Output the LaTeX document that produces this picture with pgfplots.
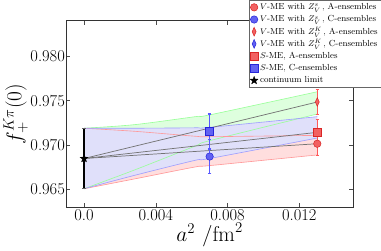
\documentclass[border=0pt]{standalone}
\usepackage{pgfplots}
\pgfplotsset{compat=1.18}
\usepgfplotslibrary{fillbetween}
\usetikzlibrary{plotmarks}
\definecolor{mred}{rgb}{0.95,0.38,0.38}
\definecolor{mredge}{rgb}{0.85,0.15,0.15}
\definecolor{mblue}{rgb}{0.38,0.38,0.95}
\definecolor{mbluee}{rgb}{0.15,0.15,0.85}
\definecolor{ebred}{rgb}{1.0,0.35,0.35}
\definecolor{ebblue}{rgb}{0.35,0.35,1.0}
\definecolor{bandg}{rgb}{0.87,1.0,0.87}
\definecolor{bandr}{rgb}{1.0,0.87,0.87}
\definecolor{bandb}{rgb}{0.88,0.88,0.98}
\definecolor{edg}{rgb}{0.6,1.0,0.6}
\definecolor{edr}{rgb}{1.0,0.6,0.6}
\definecolor{edb}{rgb}{0.62,0.62,1.0}
\pgfdeclareplotmark{fstar}{%
  \pgfpathmoveto{\pgfpointpolar{90}{\pgfplotmarksize}}%
  \pgfpathlineto{\pgfpointpolar{126}{0.42\pgfplotmarksize}}%
  \pgfpathlineto{\pgfpointpolar{162}{\pgfplotmarksize}}%
  \pgfpathlineto{\pgfpointpolar{198}{0.42\pgfplotmarksize}}%
  \pgfpathlineto{\pgfpointpolar{234}{\pgfplotmarksize}}%
  \pgfpathlineto{\pgfpointpolar{270}{0.42\pgfplotmarksize}}%
  \pgfpathlineto{\pgfpointpolar{306}{\pgfplotmarksize}}%
  \pgfpathlineto{\pgfpointpolar{342}{0.42\pgfplotmarksize}}%
  \pgfpathlineto{\pgfpointpolar{18}{\pgfplotmarksize}}%
  \pgfpathlineto{\pgfpointpolar{54}{0.42\pgfplotmarksize}}%
  \pgfpathclose
  \pgfusepathqfillstroke}
\begin{document}
\begin{tikzpicture}
\begin{axis}[
  scale only axis, width=278pt, height=181pt,
  xmin=-0.001, xmax=0.015, ymin=0.963, ymax=0.984,
  scaled x ticks=false, scaled y ticks=false,
  xtick={0,0.004,0.008,0.012}, xticklabels={0.0,0.004,0.008,0.012},
  ytick={0.965,0.970,0.975,0.980}, yticklabels={0.965,0.970,0.975,0.980},
  tick align=inside, major tick length=4pt,
  tick style={black!70, line width=0.6pt},
  axis line style={black!80, line width=0.8pt},
  ticklabel style={font=\fontsize{16}{16}\selectfont},
  yticklabel style={inner xsep=1pt},
  xticklabel style={inner ysep=2pt},
  xlabel={$a^2\ /\mathrm{fm}^2$}, ylabel={$f_+^{K\pi}(0)$},
  label style={font=\fontsize{22}{22}\selectfont},
  xlabel style={yshift=4pt},
  ylabel style={yshift=-2pt},
  legend style={at={(1.097,1.11)}, anchor=north east,
    font=\fontsize{8.5}{10}\selectfont, draw=black!60, fill=white,
    cells={anchor=west}, row sep=0pt, inner xsep=1pt, inner ysep=1pt,
    nodes={text height=7pt, text depth=2.2pt, inner ysep=1.3pt}},
  legend image code/.code={\draw[mark repeat=2,mark phase=2,#1] plot coordinates {(0cm,0cm)(0.12cm,0cm)(0.24cm,0cm)};},
]
% bands: upper and lower edges
\addplot[forget plot, draw=none, smooth, name path=gu] coordinates {(0,0.9719)(0.0028,0.9723)(0.0062,0.9732)(0.007,0.9734)(0.013,0.9760)};
\addplot[forget plot, draw=none, smooth, name path=gl] coordinates {(0,0.9651)(0.0028,0.9672)(0.0062,0.9699)(0.007,0.9705)(0.013,0.9735)};
\addplot[forget plot, draw=none, smooth, name path=ru] coordinates {(0,0.9719)(0.0028,0.97156)(0.0062,0.9710)(0.007,0.97095)(0.013,0.9711)};
\addplot[forget plot, draw=none, smooth, name path=rl] coordinates {(0,0.9651)(0.0028,0.9662)(0.0062,0.96755)(0.007,0.9677)(0.013,0.9689)};
\addplot[forget plot, draw=none, smooth, name path=bu] coordinates {(0,0.9719)(0.0028,0.9719)(0.0062,0.97195)(0.007,0.9720)(0.013,0.9732)};
\addplot[forget plot, draw=none, smooth, name path=bl] coordinates {(0,0.9651)(0.0028,0.9666)(0.0062,0.9683)(0.007,0.9685)(0.013,0.9708)};
\addplot[forget plot, bandg] fill between[of=gu and gl];
\addplot[forget plot, bandr] fill between[of=ru and rl];
\addplot[forget plot, bandb] fill between[of=bu and bl];
\addplot[forget plot, edg, line width=0.6pt, smooth] coordinates {(0,0.9719)(0.0028,0.9723)(0.0062,0.9732)(0.007,0.9734)(0.013,0.9760)};
\addplot[forget plot, edg, line width=0.6pt, smooth] coordinates {(0,0.9651)(0.0028,0.9672)(0.0062,0.9699)(0.007,0.9705)(0.013,0.9735)};
\addplot[forget plot, edr, line width=0.6pt, smooth] coordinates {(0,0.9719)(0.0028,0.97156)(0.0062,0.9710)(0.007,0.97095)(0.013,0.9711)};
\addplot[forget plot, edr, line width=0.6pt, smooth] coordinates {(0,0.9651)(0.0028,0.9662)(0.0062,0.96755)(0.007,0.9677)(0.013,0.9689)};
\addplot[forget plot, edb, line width=0.6pt, smooth] coordinates {(0,0.9719)(0.0028,0.9719)(0.0062,0.97195)(0.007,0.9720)(0.013,0.9732)};
\addplot[forget plot, edb, line width=0.6pt, smooth] coordinates {(0,0.9651)(0.0028,0.9666)(0.0062,0.9683)(0.007,0.9685)(0.013,0.9708)};
% fit lines
\addplot[forget plot, black!55, line width=0.7pt] coordinates {(0,0.9685)(0.013,0.97485)};
\addplot[forget plot, black!55, line width=0.7pt] coordinates {(0,0.9685)(0.013,0.97144)};
\addplot[forget plot, black!55, line width=0.7pt] coordinates {(0,0.9685)(0.013,0.97016)};
% data points
\addplot[only marks, mark=*, mark size=3.6pt, mark options={fill=mred, draw=mredge, line width=0.5pt},
  error bars/.cd, y dir=both, y explicit,
  error bar style={ebred, line width=0.8pt}, error mark options={rotate=90, ebred, mark size=1.6pt}]
  coordinates {(0.013,0.97016) +- (0,0.0013)};
\addlegendentry{$V$-ME with $Z_V^s$\,, A-ensembles}
\addplot[only marks, mark=*, mark size=3.6pt, mark options={fill=mblue, draw=mbluee, line width=0.5pt},
  error bars/.cd, y dir=both, y explicit,
  error bar style={ebblue, line width=0.8pt}, error mark options={rotate=90, ebblue, mark size=1.6pt}]
  coordinates {(0.007,0.96872) +- (0,0.0019)};
\addlegendentry{$V$-ME with $Z_V^s$\,, C-ensembles}
\addplot[only marks, mark=diamond*, mark size=4.2pt, mark options={fill=mred, draw=mredge, line width=0.5pt, xscale=0.6},
  error bars/.cd, y dir=both, y explicit,
  error bar style={ebred, line width=0.8pt}, error mark options={rotate=90, ebred, mark size=1.6pt}]
  coordinates {(0.013,0.97485) +- (0,0.0014)};
\addlegendentry{$V$-ME with $Z_V^K$\,, A-ensembles}
\addplot[only marks, mark=diamond*, mark size=4.2pt, mark options={fill=mblue, draw=mbluee, line width=0.5pt, xscale=0.6},
  error bars/.cd, y dir=both, y explicit,
  error bar style={ebblue, line width=0.8pt}, error mark options={rotate=90, ebblue, mark size=1.6pt}]
  coordinates {(0.007,0.97155) +- (0,0.0019)};
\addlegendentry{$V$-ME with $Z_V^K$\,, C-ensembles}
\addplot[only marks, mark=square*, mark size=3.8pt, mark options={fill=mred, draw=mredge, line width=0.5pt},
  error bars/.cd, y dir=both, y explicit,
  error bar style={ebred, line width=0.8pt}, error mark options={rotate=90, ebred, mark size=1.6pt}]
  coordinates {(0.013,0.97144) +- (0,0.0015)};
\addlegendentry{$S$-ME, A-ensembles}
\addplot[only marks, mark=square*, mark size=3.8pt, mark options={fill=mblue, draw=mbluee, line width=0.5pt},
  error bars/.cd, y dir=both, y explicit,
  error bar style={ebblue, line width=0.8pt}, error mark options={rotate=90, ebblue, mark size=1.6pt}]
  coordinates {(0.007,0.97160) +- (0,0.0020)};
\addlegendentry{$S$-ME, C-ensembles}
\addplot[only marks, mark=fstar, mark size=4pt, mark options={fill=black, draw=black, line width=0.3pt},
  error bars/.cd, y dir=both, y explicit,
  error bar style={black, line width=1.5pt}, error mark options={rotate=90, black!60, mark size=2pt, line width=0.6pt}]
  coordinates {(0,0.9685) +- (0,0.0034)};
\addlegendentry{continuum limit}
\end{axis}
\end{tikzpicture}
\end{document}
